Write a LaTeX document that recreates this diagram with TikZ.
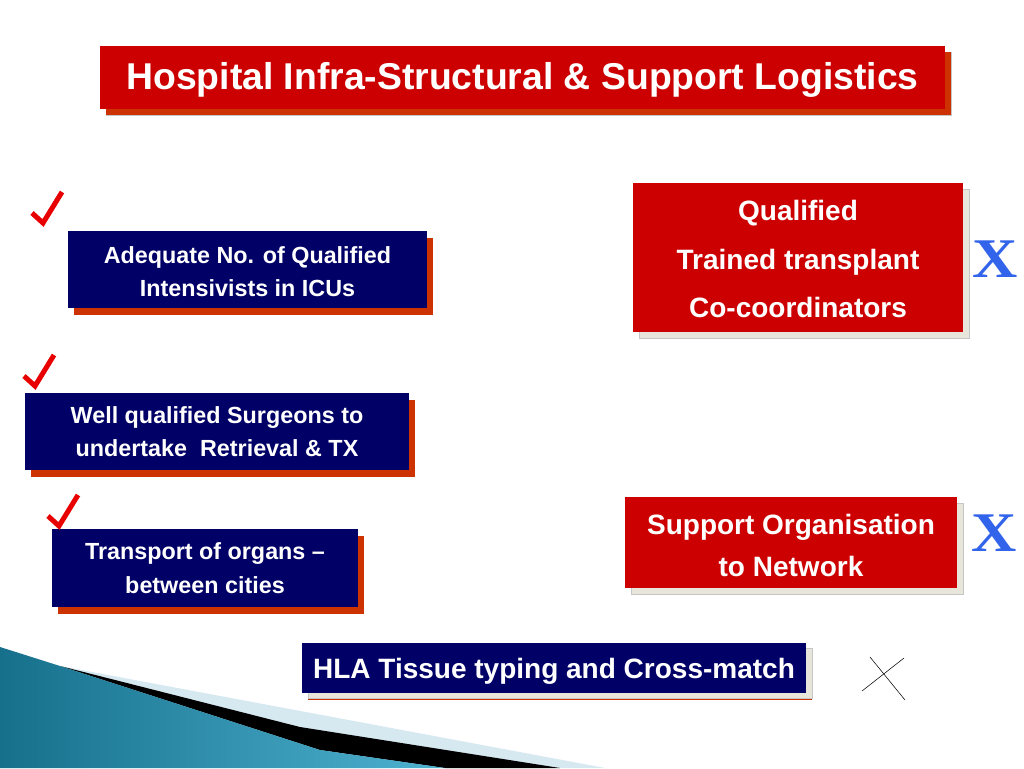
\documentclass[tikz,border=0pt]{standalone}
\usepackage{fontspec}
\setmainfont{Liberation Sans}
\newfontfamily\serifx{Liberation Serif}
\usetikzlibrary{shadows}
\definecolor{boxred}{RGB}{204,0,0}
\definecolor{boxnavy}{RGB}{0,0,102}
\definecolor{shadowred}{RGB}{204,51,0}
\definecolor{shadowgrey}{RGB}{232,229,219}
\definecolor{tickred}{RGB}{232,0,0}
\definecolor{xblue}{RGB}{50,100,235}
\definecolor{tealdark}{RGB}{22,112,140}
\definecolor{teallight}{RGB}{78,178,208}
\definecolor{paleblue}{RGB}{214,232,240}
\newdimen\pxu \pxu=0.75pt
\tikzset{
  navybox/.style={fill=boxnavy, text=white, align=center, inner sep=0pt,
    font=\bfseries\fontsize{17.5}{25}\selectfont,
    drop shadow={shadow xshift=6\pxu, shadow yshift=-7\pxu, fill=shadowred, opacity=1}},
  redbox/.style={fill=boxred, text=white, align=center, inner sep=0pt,
    drop shadow={shadow xshift=6\pxu, shadow yshift=-6\pxu, fill=shadowgrey, draw=gray!45, very thin, opacity=1}},
  tickline/.style={draw=tickred, line width=5\pxu, line join=miter},
  crossmark/.style={text=xblue, inner sep=0pt, xscale=1.12, font=\serifx\bfseries\fontsize{42}{42}\selectfont}
}
\newcommand{\redtick}[2]{\draw[tickline] (#1,#2)--++(11,10)--++(19,-31);}
\newcommand{\bluex}[3]{\node[crossmark] (#1) at (#2,#3) {X};}
\newcommand{\topstrut}[1]{\rule{0pt}{#1}}

\begin{document}
\begin{tikzpicture}[x=0.75pt,y=-0.75pt]
\useasboundingbox[fill=white] (0,0) rectangle (1024,768);
% bottom left wedge
\fill[paleblue] (60,666)--(605,768)--(0,768)--cycle;
\fill[black] (60,666)--(300,727)--(560,768)--(445,768)--(320,750)--cycle;
\shade[left color=tealdark, right color=teallight] (0,647)--(60,666)--(320,750)--(445,768)--(0,768)--cycle;
% title
\node[redbox, minimum width=845\pxu, minimum height=63\pxu, font=\bfseries\fontsize{28}{28}\selectfont,
  drop shadow={shadow xshift=6\pxu, shadow yshift=-6\pxu, fill=shadowred, draw=none, opacity=1}]
  (title) at (522.5,77.5) {\topstrut{23.4pt}Hospital Infra-Structural \& Support Logistics};
% left column
\node[navybox, minimum width=359\pxu, minimum height=77\pxu] (intensivists) at (247.5,269.5) {\topstrut{15.9pt}Adequate No. of Qualified\\Intensivists in ICUs};
\node[navybox, minimum width=384\pxu, minimum height=77\pxu] (surgeons) at (217,431.5) {Well qualified Surgeons to\\undertake~ Retrieval \& TX};
\node[navybox, minimum width=306\pxu, minimum height=78\pxu] (transport) at (205,568) {Transport of organs --\\between cities};
\redtick{32}{213}\redtick{24}{376}\redtick{48}{516}
% right column
\node[redbox, minimum width=330\pxu, minimum height=149\pxu, font=\bfseries\fontsize{21}{36.5}\selectfont]
  (coordinators) at (798,257.5) {\topstrut{17.7pt}Qualified\\Trained transplant\\Co-coordinators};
\node[redbox, minimum width=332\pxu, minimum height=91\pxu, font=\bfseries\fontsize{21}{31.5}\selectfont]
  (network) at (791,542.5) {\topstrut{19.8pt}Support Organisation\\to Network};
\bluex{crossA}{995}{259}\bluex{crossB}{994}{533}
% bottom
\node[navybox, minimum width=504\pxu, minimum height=50\pxu, font=\bfseries\fontsize{21}{21}\selectfont,
  drop shadow={shadow xshift=6\pxu, shadow yshift=-5\pxu, fill=shadowgrey, draw=gray!45, very thin, opacity=1}]
  (hla) at (554,668) {\topstrut{19.8pt}HLA Tissue typing and Cross-match};
\draw[thin] (862,691)--(904,658);
\draw[thin] (870,657)--(905,700);
\end{tikzpicture}
\end{document}
